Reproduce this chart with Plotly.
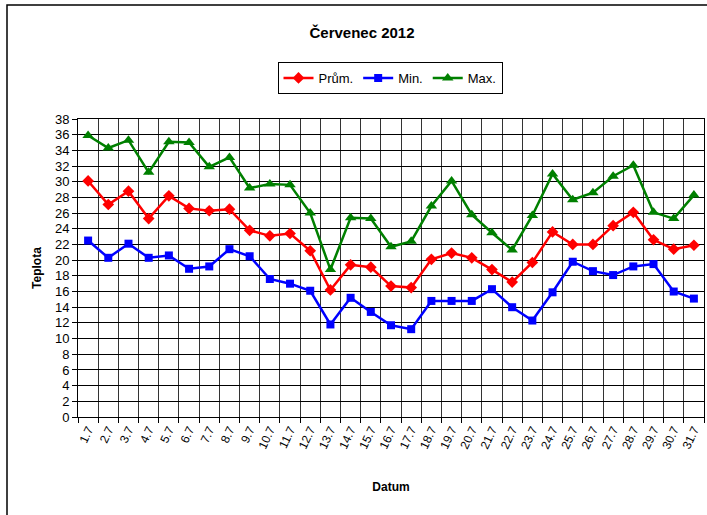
import plotly.graph_objects as go

# Data
dates = [f"{d}.7" for d in range(1, 32)]
prum = [30.1, 27.1, 28.8, 25.3, 28.2, 26.6, 26.3, 26.5, 23.8, 23.1, 23.4,
        21.2, 16.2, 19.4, 19.1, 16.7, 16.5, 20.1, 20.9, 20.3, 18.8,
        17.2, 19.7, 23.6, 22.0, 22.0, 24.4, 26.1, 22.6, 21.4, 21.9]
tmin = [22.5, 20.3, 22.1, 20.3, 20.6, 18.9, 19.2, 21.4, 20.5, 17.6, 17.0,
        16.1, 11.8, 15.2, 13.4, 11.7, 11.2, 14.8, 14.8, 14.8, 16.3,
        14.0, 12.3, 15.9, 19.8, 18.6, 18.1, 19.2, 19.5, 16.0, 15.1]
tmax = [35.9, 34.3, 35.3, 31.2, 35.1, 35.0, 31.9, 33.1, 29.2, 29.7, 29.6,
        26.0, 18.8, 25.4, 25.3, 21.7, 22.4, 26.9, 30.1, 25.8, 23.5,
        21.3, 25.7, 31.0, 27.7, 28.6, 30.7, 32.1, 26.1, 25.3, 28.3]
y_ticks = list(range(0, 39, 2))

FONT = "Liberation Sans, Arial, sans-serif"

fig = go.Figure()
fig.add_trace(go.Scatter(
    x=dates, y=prum, name="Prům.", mode="lines+markers",
    line=dict(color="#FF0000", width=2.5),
    marker=dict(symbol="diamond", size=9, color="#FF0000")
))
fig.add_trace(go.Scatter(
    x=dates, y=tmin, name="Min.", mode="lines+markers",
    line=dict(color="#0000FF", width=2.5),
    marker=dict(symbol="square", size=8, color="#0000FF")
))
fig.add_trace(go.Scatter(
    x=dates, y=tmax, name="Max.", mode="lines+markers",
    line=dict(color="#008000", width=2.5),
    marker=dict(symbol="triangle-up", size=10, color="#008000")
))

fig.update_layout(
    width=707, height=515,
    margin=dict(l=78, r=3, t=119, b=98),
    paper_bgcolor="white", plot_bgcolor="white",
    font=dict(family=FONT, color="black", size=12),
    title=dict(text="<b>Červenec 2012</b>", x=362 / 707, xref="container",
               xanchor="center", y=1 - 33 / 515, yref="container", yanchor="middle",
               font=dict(size=15, family=FONT)),
    legend=dict(orientation="h", x=390 / 707, xref="container", xanchor="center",
                y=1 - 62 / 515, yref="container", yanchor="top",
                bordercolor="black", borderwidth=1, font=dict(size=13),
                itemwidth=30, tracegroupgap=0),
    xaxis=dict(
        type="category", range=[-0.5, 30.5], tickson="boundaries",
        ticks="outside", ticklen=5, tickcolor="black",
        showgrid=True, gridcolor="#333333", gridwidth=1,
        showline=True, linecolor="black", linewidth=1, mirror=True,
        tickangle=-65, tickfont=dict(size=12),
        title=dict(text="<b>Datum</b>", font=dict(size=12), standoff=32)
    ),
    yaxis=dict(
        range=[0, 38], tickvals=y_ticks, ticks="outside", ticklen=5, tickcolor="black",
        showgrid=True, gridcolor="black", gridwidth=1,
        showline=True, linecolor="black", linewidth=1, mirror=True,
        zeroline=False, tickfont=dict(size=13),
        title=dict(text="<b>Teplota</b>", font=dict(size=12), standoff=10)
    ),
    shapes=[dict(type="rect", xref="paper", yref="paper",
                 x0=(7 - 78) / 626, x1=(720 - 78) / 626,
                 y0=-(530 - 417) / 298, y1=(417 - 5) / 298,
                 line=dict(color="black", width=1.5), layer="below")]
)

# drop the default page margin so the figure sits at the window's corner
fig.write_html("out.html", config={"displayModeBar": False},
               post_script="document.body.style.margin='0';")
